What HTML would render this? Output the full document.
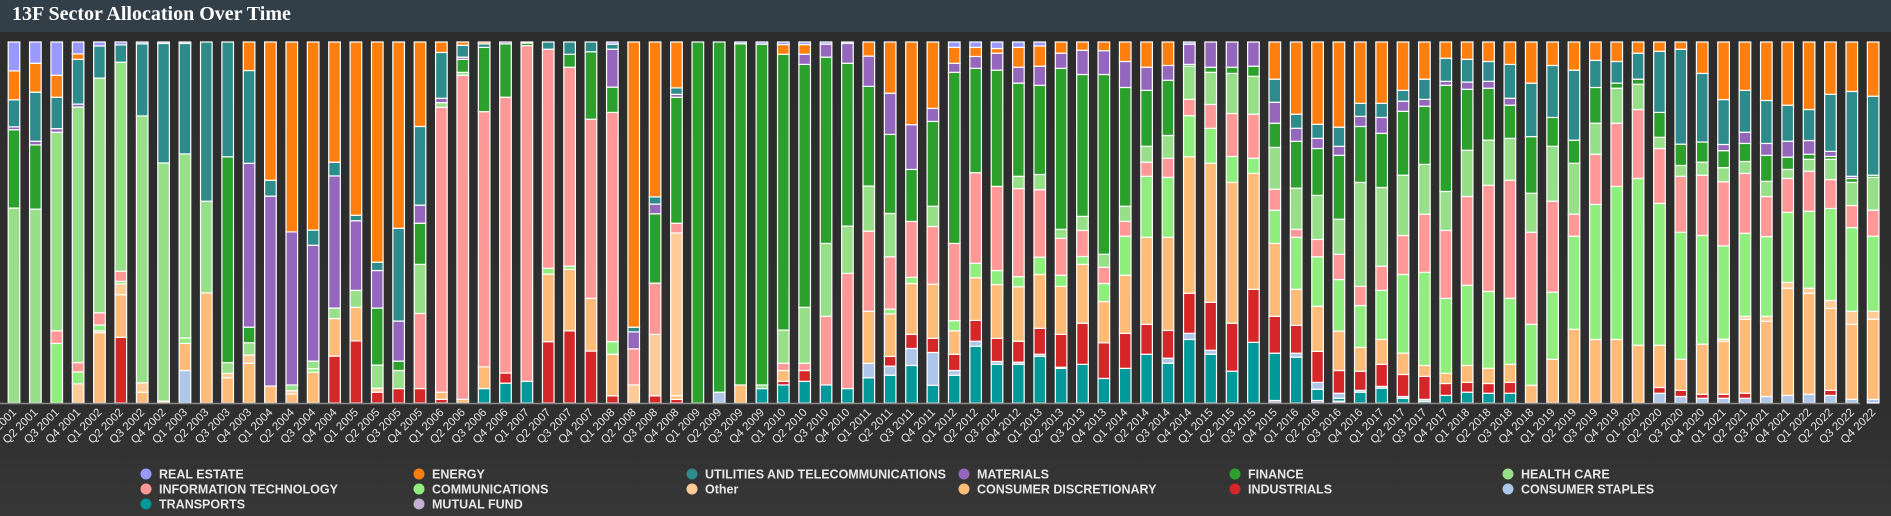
<!DOCTYPE html>
<html><head><meta charset="utf-8">
<style>
html,body{margin:0;padding:0;width:1891px;height:516px;overflow:hidden;background:linear-gradient(#2c2c2c 0px,#2e2e2e 400px,#373737 516px);font-family:"Liberation Sans",sans-serif;}
#hdr{position:absolute;left:0;top:0;width:1891px;height:32px;background:#333f48;}
#title{position:absolute;left:12px;top:3px;color:#fff;font:bold 20px "Liberation Serif",serif;}
svg{position:absolute;left:0;top:0;}
</style></head>
<body>
<div id="hdr"><div id="title">13F Sector Allocation Over Time</div></div>
<svg id="chart" width="1891" height="516"></svg>
<script>
const categories=[];
const years=[2001,2002,2003,2004,2005,2006,2007,2008,2009,2010,2011,2012,2013,2014,2015,2016,2017,2018,2019,2020,2021,2022];
for(const y of years){for(let q=1;q<=4;q++)categories.push('Q'+q+' '+y);}
const realEstate=[8,5.9,9.2,3.3,1.1,0.8,0.5,0.4,0.4,0, 0,0,0,0,0,0,0,0,0,0, 0,0,0,0,0,0,0,0,0.6,0, 0,0,0,0,0.5,0.6,0.7,0.7,0.6,0.4, 0,0,0,0,1.5,1.5,1.8,1.5,1.1,0, 0,0,0,0,0,0.6,0,0,0,0, 0,0,0,0,0,0,0,0,0,0, 0,0,0,0,0,0,0,0,0,0, 0,0,0,0,0,0,0,0];
const energy=[8,8,6.1,1.5,0,0,0,0,0,0, 0,7.9,38.3,52.6,52.1,33.3,48,61,51.6,23.4, 2.9,0.9,0.5,0,0,0,0,0,0,79, 42.9,12.7,0,0,0,0,2.7,2.7,0,0, 3.9,14.2,22.9,18.4,4.4,2.5,1.3,5.5,5.6,3.1, 2.3,2.4,5.4,7,6.5,0,0,0,0,10.3, 20,22.8,23.6,17,17,13.4,10.3,4.5,4.8,5.4, 6.2,11.4,6.5,7.8,5.1,5.4,3.1,2.6,2,8.7, 15.9,13.4,16.2,17.5,18.7,14.5,13.7,15];
const utilities=[7.5,13.6,8.7,12.4,8.9,4.8,20,33.1,30.6,44.1, 31.8,25.7,4.4,0,4.2,3.8,1.5,2.3,25.7,21.8, 12.7,3.3,1,0,0,2,3.4,2.7,1.4,1.3, 2,1.8,0,0,0,0,0,0,0,0, 0,0,0,0,0,0,0,0,0,0, 0,0,0,0,0,0,0,0,0,6.4, 3.9,3.9,5.3,3.6,3.9,3,5.6,6.4,6.3,5.5, 9.4,14.8,14.4,19.4,7.5,6,7.2,16.9,26.3,19, 12.4,11.6,11.9,10,8.6,15.8,23.5,21.9];
const materials=[0.8,1,1,0.8,0,0,0,0,0,0, 0,45.4,52.6,42.4,32.1,36.6,19.3,10.4,11.1,5, 1.2,0.6,0,0.5,0.3,0,0,0,10.5,4.7, 2.7,0.8,0,0,0,0,0,2.8,3.6,5.5, 8.4,11.4,12.4,3.6,2.5,3.3,4.7,4.4,5.3,4.2, 6.7,6.6,7.2,6.4,4.1,5.6,7,7,6.7,5.8, 3.6,2.8,2.5,2.8,4.4,2.8,1.9,1.1,2,1.9, 1.9,0,0,0,0,0,0,0,0,0, 1.7,3.1,3.3,4.4,3.8,1.4,0.6,0];
const finance=[21.7,17.8,0,0,0,0,0,0,0,0, 57,4.3,0,0,0,0,0,15.8,2.6,11.4, 0,3.6,17.8,14.8,0.7,0,3.6,18.7,7,0, 19.2,34.9,100,97,94.5,94.4,76.4,67.3,51.6,45.1, 27.6,21.9,14.4,23.5,47.4,28.9,32.2,25.8,24.7,44.6, 39.3,49.8,32.9,15.5,15.3,0.5,1.4,1.7,2.8,6.7, 13,13,17.7,15.5,15,17.7,16.1,29.4,16.9,14.4, 9.2,15.7,8,6.4,9.9,1.4,1.4,6.9,5.9,5.6, 4.7,5,7.2,3.4,1.4,0.8,1.1,0.6];
const healthCare=[54,53.7,55,70.8,65,57.9,74,66,51,25.4, 3,3.4,0,1.6,2.1,2.9,4.7,6.4,5,13.6, 1.3,0.8,0,0,0,0,0,0,0,0, 0,0,0,0,0,1,9.2,15.5,20.2,13.1, 12.5,12,0,5.6,0,0,0,3.4,4.2,2.5, 3.9,3.6,4.2,4.4,6.3,9.2,8.9,11.1,10.5,11.6, 11.4,12.2,9.7,28.8,21.8,16.7,13.8,10.8,12.8,12.5, 11.6,10.8,15.2,14.1,8.6,9.7,7,3.1,3,3.6, 3.9,3.3,4.2,2.5,3.3,5.6,6.4,9.1];
const infoTech=[0,0,3.5,2.6,3.4,2.8,0,0,0,0, 0,0,0,0,0,0,0,0,0,20.8, 78.9,89.8,70.7,76.4,93,60.7,55.1,49.6,63.5,10, 14.2,2.7,0,0,0,0,2,2,19,31.9, 22.2,14.5,15.5,16,21.4,25.1,23.3,24.4,18.7,10.2, 7.2,4.5,4.1,3.9,5.3,4.5,6.6,11.9,12.2,5.8, 2.2,4.8,7,5.3,6.7,10.8,16.1,18.8,24.6,29.4, 32.7,25.5,25.2,6.1,13.9,17.5,19.1,15.2,15.5,16.7, 17.7,16.6,11.1,9.4,11.1,8,6.1,7.2];
const communications=[0,0,16.5,3.3,1.6,0.7,0,0,1.5,0, 0,0,0,0,1,0,0,0,0,0, 0,0,0,0,0,1.6,0.9,0,3.5,0, 0,0,0,0,0,0,0,0,0,0, 0,1.3,1.7,0,2.8,4,3.9,2.8,4.8,3.1, 2.2,5,10.8,16.9,16.6,11.4,9.7,7.2,4.2,9.2, 14.4,13.7,14.3,11.6,13.6,21.8,25.8,20.8,22.2,21.3, 18.3,16.9,18.6,25.8,37.4,42.4,46.2,39.3,35.2,30.1, 25.8,23,22.1,19.4,21.3,25.5,23.2,20.8];
const other=[0,0,0,5.3,0.5,3,2.6,0.5,0,0, 1.2,2.3,0,0.9,0,0,0,1.1,0,0, 0,0,0,0,0,0,0,0,0,5, 17,45.1,0,0,0,0,0,0,0,0, 0,0,0,0,0,0,0,0,0,0, 0,0,0,0,0,0,0,0,0,0, 0,0,0,0,0,0,0,0,0,0, 0,0,0,0,0,0,0,0,0,0, 0.6,0.8,1.4,1.6,1.4,2.2,3.6,2.2];
const consumerDisc=[0,0,0,0,19.5,11.8,3,0,7.5,30.5, 7,11,4.7,2.5,8.5,10.4,9.3,0,0,0, 2,1,6,0,0,18.7,17,14.6,11.5,0, 0,1,0,0,5,0,3,0,0,0, 14.4,11.8,14.1,15,6.5,11.8,14.9,15.1,14.9,13.3, 16.3,11.4,16.1,24.1,25.8,37.8,38.5,39,32.1,20.2, 10,12.5,10.9,6.6,6.9,5.9,3,2.8,4.7,4.2, 5,4.9,12.1,20.4,17.6,17.6,16,11.7,8.6,13.9, 14.6,20.5,20.8,29.7,28,22.7,20.8,22.2];
const industrials=[0,0,0,0,0,18.2,0,0,0,0, 0,0,0,0,0,13,17.2,3,4,4, 1,0,0,2.8,0,17,20,14.4,2,0, 2,1,0,0,0,0,1,3,0,0, 0,2.7,3.9,3.9,4.5,5.8,6.4,5.8,7.2,9.1, 11.4,9.9,9.7,8.3,7.7,11.1,13.3,13.3,14.7,10.2, 7.7,8.6,6.3,5.3,6.1,6.1,6.4,3.3,2.7,2.7, 3,0,0,0,0,0,0,1.6,1.7,1.1, 1.1,1.4,0,0,0,1.4,0,0];
const consumerStaples=[0,0,0,0,0,0,0,0,9,0, 0,0,0,0,0,0,0,0,0,0, 0,0,0,0,0,0,0,0,0,0, 0,0,0,3,0,0,0,0,0,0, 4,2.5,4.7,9.1,1.3,1.4,0.8,0.6,0.6,0.3, 0,0,0,0,1.4,1.7,1.1,0,0,0, 1.1,1.9,1.4,0.5,0.5,0.5,0.5,0,0,0, 0,0,0,0,0,0,0,2.7,1.8,1.3, 1.3,1.3,1.8,2.1,2.4,2.1,1,1];
const transports=[0,0,0,0,0,0,0,0,0,0, 0,0,0,0,0,0,0,0,0,0, 0,0,4,5.5,6,0,0,0,0,0, 0,0,0,0,0,4,5,6,5,4, 7,7.7,10.4,4.9,7.7,15.7,10.7,10.7,12.9,9.6, 10.7,6.8,9.6,13.5,11,17.6,13.5,8.8,16.8,13.1, 12.7,3.1,0.8,3,4.1,1.3,0.5,2.1,3,2.7, 2.7,0,0,0,0,0,0,0,0,0, 0,0,0,0,0,0,0,0];
const mutualFund=[0,0,0,0,0,0,0,0,0,0, 0,0,0,0,0,0,0,0,0,0, 0,0,0,0,0,0,0,0,0,0, 0,0,0,0,0,0,0,0,0,0, 0,0,0,0,0,0,0,0,0,0, 0,0,0,0,0,0,0,0,0,0.7, 0,0.7,0.5,0,0,0,0,0,0,0, 0,0,0,0,0,0,0,0,0,0, 0,0,0,0,0,0,0,0];
const seriesNames=['REAL ESTATE','ENERGY','UTILITIES AND TELECOMMUNICATIONS','MATERIALS','FINANCE','HEALTH CARE','INFORMATION TECHNOLOGY','COMMUNICATIONS','Other','CONSUMER DISCRETIONARY','INDUSTRIALS','CONSUMER STAPLES','TRANSPORTS','MUTUAL FUND'];
const seriesData=[realEstate,energy,utilities,materials,finance,healthCare,infoTech,communications,other,consumerDisc,industrials,consumerStaples,transports,mutualFund];
const seriesColors=['#9999ff','#ff7f0e','#2e8b8b','#9467bd','#2ca02c','#98df8a','#ff9896','#90ee7e','#ffcc99','#ffbb78','#d62728','#aec7e8','#009999','#c5b0d5'];

const NS='http://www.w3.org/2000/svg';
const svg=document.getElementById('chart');
const plotL=3.3,plotT=42,plotB=403,band=21.37,barW=11.6;
function xC(i){return plotL+band*(i+0.5);}
function yP(p){return plotB-(plotB-plotT)*p/100;}
function mk(t,a){const e=document.createElementNS(NS,t);for(const k in a)e.setAttribute(k,a[k]);return e;}

const gBars=mk('g',{});


svg.appendChild(gBars);
categories.forEach((c,i)=>{
  let tot=0;seriesData.forEach(s=>tot+=s[i]);
  let cum=0;
  // bottom to top: reverse series order
  for(let k=seriesData.length-1;k>=0;k--){
    const v=seriesData[k][i];if(!v)continue;
    const p0=cum/tot*100;cum+=v;const p1=cum/tot*100;
    const r=mk('rect',{x:xC(i)-barW/2,y:yP(p1),width:barW,height:yP(p0)-yP(p1),fill:seriesColors[k],stroke:'#ffffff','stroke-width':1.2});
    
    
    gBars.appendChild(r);
  }
  const t=mk('text',{x:xC(i)+3,y:413,'text-anchor':'end',transform:`rotate(-45 ${xC(i)+3} 413)`,fill:'#e6e6e6','font-size':'11.5','font-family':'"Liberation Sans",sans-serif'});
  
  
  t.textContent=c;svg.appendChild(t);
});
const ax=mk('line',{x1:0,x2:1860,y1:plotB+0.5,y2:plotB+0.5,stroke:'#8a8a8a','stroke-width':1.5});


svg.appendChild(ax);

const legX=[146,419,692,964,1235,1508],legY=[474,489,504];
seriesNames.forEach((n,k)=>{
  const cx=legX[k%6],cy=legY[Math.floor(k/6)];
  const g=mk('g',{});
  
  
  g.appendChild(mk('circle',{cx:cx,cy:cy,r:5.5,fill:seriesColors[k]}));
  const t=mk('text',{x:cx+13,y:cy+4.5,fill:'#e6e6e6','font-size':'12.5','font-weight':'bold','font-family':'"Liberation Sans",sans-serif'});
  t.textContent=n;g.appendChild(t);svg.appendChild(g);
});
</script>
</body></html>
